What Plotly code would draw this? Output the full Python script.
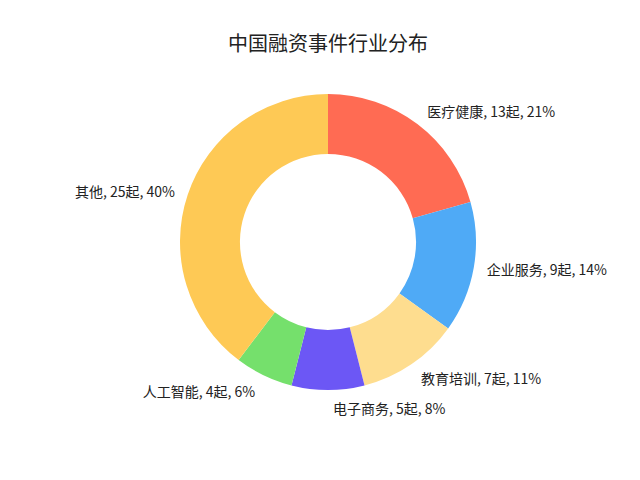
import plotly.graph_objects as go

categories = ["医疗健康", "企业服务", "教育培训", "电子商务", "人工智能", "其他"]
counts = [13, 9, 7, 5, 4, 25]
colors = ["#ff6b53", "#4faaf6", "#fedd8f", "#6c57f5", "#75e06c", "#fec955"]

# plot area is 312x312; visible ring uses inner 296px, label ring is 8px larger
pad = 8 / 312

fig = go.Figure()
fig.add_trace(go.Pie(
    labels=categories,
    values=counts,
    hole=0.595,
    sort=False,
    direction="clockwise",
    rotation=0,
    domain=dict(x=[pad, 1 - pad], y=[pad, 1 - pad]),
    marker=dict(colors=colors, line=dict(width=0)),
    textinfo="none",
    showlegend=False,
    hoverinfo="label+value+percent",
))
fig.add_trace(go.Pie(
    labels=categories,
    values=counts,
    hole=0.99,
    sort=False,
    direction="clockwise",
    rotation=0,
    domain=dict(x=[0, 1], y=[0, 1]),
    marker=dict(colors=["rgba(0,0,0,0)"] * len(categories), line=dict(width=0)),
    texttemplate="%{label}, %{value}起, %{percent:.0%}",
    textposition="outside",
    textfont=dict(size=14, color="#222222", family="Noto Sans CJK SC"),
    showlegend=False,
    hoverinfo="skip",
))

fig.update_layout(
    width=640, height=480,
    margin=dict(l=164, r=164, t=78, b=90),
    paper_bgcolor="white",
    plot_bgcolor="white",
    font=dict(family="Noto Sans CJK SC", color="#222222"),
    title=dict(text="中国融资事件行业分布", x=0.5, xref="paper", xanchor="center",
               y=1 - 36 / 480, yref="container", yanchor="middle",
               font=dict(size=20, color="#222222", family="Noto Sans CJK SC")),
)

fig.write_html("out.html")
